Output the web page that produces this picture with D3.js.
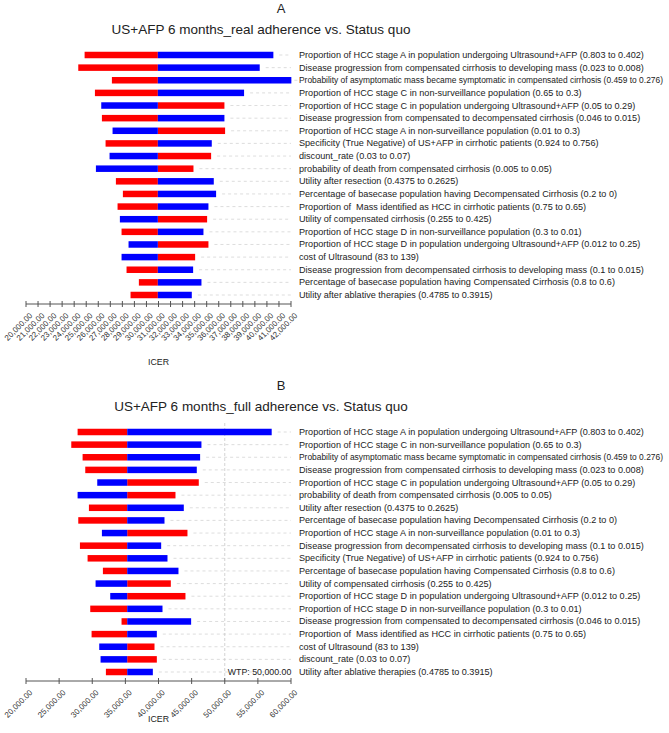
<!DOCTYPE html>
<html>
<head>
<meta charset="utf-8">
<script src="https://cdn.jsdelivr.net/npm/d3@7/dist/d3.min.js"></script>
<style>
  html, body { margin: 0; padding: 0; background: #fff; }
  svg { display: block; font-family: "Liberation Sans", Arial, sans-serif; }
  .lbl { white-space: pre; }
</style>
</head>
<body>
<svg id="chart" width="669" height="733"></svg>
<script>
// ---------- Data: panel A ----------
const titleA = "US+AFP 6 months_real adherence vs. Status quo";
const baseA = 30945;
const labelsA = [
  "Proportion of HCC stage A in population undergoing Ultrasound+AFP (0.803 to 0.402)",
  "Disease progression from compensated cirrhosis to developing mass (0.023 to 0.008)",
  "Probability of asymptomatic mass became symptomatic in compensated cirrhosis (0.459 to 0.276)",
  "Proportion of HCC stage C in non-surveillance population (0.65 to 0.3)",
  "Proportion of HCC stage C in population undergoing Ultrasound+AFP (0.05 to 0.29)",
  "Disease progression from compensated to decompensated cirrhosis (0.046 to 0.015)",
  "Proportion of HCC stage A in non-surveillance population (0.01 to 0.3)",
  "Specificity (True Negative) of US+AFP in cirrhotic patients (0.924 to 0.756)",
  "discount_rate (0.03 to 0.07)",
  "probability of death from compensated cirrhosis (0.005 to 0.05)",
  "Utility after resection (0.4375 to 0.2625)",
  "Percentage of basecase population having Decompensated Cirrhosis (0.2 to 0)",
  "Proportion of  Mass identified as HCC in cirrhotic patients (0.75 to 0.65)",
  "Utility of compensated cirrhosis (0.255 to 0.425)",
  "Proportion of HCC stage D in non-surveillance population (0.3 to 0.01)",
  "Proportion of HCC stage D in population undergoing Ultrasound+AFP (0.012 to 0.25)",
  "cost of Ultrasound (83 to 139)",
  "Disease progression from decompensated cirrhosis to developing mass (0.1 to 0.015)",
  "Percentage of basecase population having Compensated Cirrhosis (0.8 to 0.6)",
  "Utility after ablative therapies (0.4785 to 0.3915)"
];
// ICER at the red end and at the blue end of each parameter range
const redA  = [24865, 24339, 27131, 25722, 36473, 26302, 36529, 26606, 35368, 33903,
               27463, 28043, 27601, 35036, 27933, 35146, 34041, 28347, 29370, 28679];
const blueA = [40536, 39403, 42029, 38104, 26247, 36473, 27186, 35423, 26937, 25804,
               35589, 35782, 35146, 27794, 34732, 28513, 27933, 33875, 34566, 33764];
const ticksA = d3.range(20000, 42001, 1000);

// ---------- Data: panel B ----------
const titleB = "US+AFP 6 months_full adherence vs. Status quo";
const baseB = 35276;
const wtpB = 50000;
const labelsB = [
  "Proportion of HCC stage A in population undergoing Ultrasound+AFP (0.803 to 0.402)",
  "Proportion of HCC stage C in non-surveillance population (0.65 to 0.3)",
  "Probability of asymptomatic mass became symptomatic in compensated cirrhosis (0.459 to 0.276)",
  "Disease progression from compensated cirrhosis to developing mass (0.023 to 0.008)",
  "Proportion of HCC stage C in population undergoing Ultrasound+AFP (0.05 to 0.29)",
  "probability of death from compensated cirrhosis (0.005 to 0.05)",
  "Utility after resection (0.4375 to 0.2625)",
  "Percentage of basecase population having Decompensated Cirrhosis (0.2 to 0)",
  "Proportion of HCC stage A in non-surveillance population (0.01 to 0.3)",
  "Disease progression from decompensated cirrhosis to developing mass (0.1 to 0.015)",
  "Specificity (True Negative) of US+AFP in cirrhotic patients (0.924 to 0.756)",
  "Percentage of basecase population having Compensated Cirrhosis (0.8 to 0.6)",
  "Utility of compensated cirrhosis (0.255 to 0.425)",
  "Proportion of HCC stage D in population undergoing Ultrasound+AFP (0.012 to 0.25)",
  "Proportion of HCC stage D in non-surveillance population (0.3 to 0.01)",
  "Disease progression from compensated to decompensated cirrhosis (0.046 to 0.015)",
  "Proportion of  Mass identified as HCC in cirrhotic patients (0.75 to 0.65)",
  "cost of Ultrasound (83 to 139)",
  "discount_rate (0.03 to 0.07)",
  "Utility after ablative therapies (0.4785 to 0.3915)"
];
const redB  = [27789, 26834, 28543, 28945, 46080, 42563, 29497, 27889, 44372, 28141,
               29296, 31608, 41859, 44070, 29698, 34422, 29899, 39397, 39749, 32060];
const blueB = [57085, 46482, 46281, 45779, 30754, 27789, 43819, 40905, 31457, 40402,
               41357, 43015, 30503, 32714, 40603, 44925, 39749, 31055, 31256, 39146];
const ticksB = d3.range(20000, 60001, 5000);

// ---------- Drawing ----------
const svg = d3.select("#chart");
const fmt = d3.format(",.2f");

function tornado(cfg) {
  const g = svg.append("g").attr("transform", `translate(0,${cfg.dy})`);
  const x = d3.scaleLinear().domain(cfg.domain).range([26, 291]);
  const y = d3.scalePoint().domain(d3.range(cfg.labels.length)).range([55, 295]);
  const barH = 6.5;
  const axisY = 304;

  g.append("text").attr("x", 281).attr("y", 13).attr("text-anchor", "middle")
    .attr("font-size", 13).attr("fill", "#222").text(cfg.letter);
  g.append("text").attr("x", 261).attr("y", 34).attr("text-anchor", "middle")
    .attr("font-size", 13.5).attr("fill", "#222").text(cfg.title);

  const rows = cfg.labels.map((l, i) => ({ i, label: l, red: cfg.red[i], blue: cfg.blue[i] }));

  // dashed guide lines
  g.selectAll("line.guide").data(rows).join("line")
    .attr("x1", d => Math.max(x(d.red), x(d.blue)) + 6)
    .attr("x2", 291)
    .attr("y1", d => y(d.i)).attr("y2", d => y(d.i))
    .attr("stroke", "#d4d4d4").attr("stroke-width", 0.8).attr("stroke-dasharray", "3,3");

  if (cfg.wtp != null) {
    g.append("line").attr("x1", x(cfg.wtp)).attr("x2", x(cfg.wtp))
      .attr("y1", 46).attr("y2", axisY)
      .attr("stroke", "#c8c8c8").attr("stroke-width", 0.8).attr("stroke-dasharray", "3,2");
    g.append("text").attr("x", x(cfg.wtp) + 3).attr("y", y(rows.length - 1) + 3)
      .attr("font-size", 8.8).attr("fill", "#222").text("WTP: " + fmt(cfg.wtp));
  }

  // bars
  ["red", "blue"].forEach(key => {
    g.selectAll("rect." + key).data(rows).join("rect")
      .attr("class", key)
      .attr("x", d => Math.min(x(cfg.base), x(d[key])))
      .attr("width", d => Math.abs(x(d[key]) - x(cfg.base)))
      .attr("y", d => y(d.i) - barH / 2)
      .attr("height", barH)
      .attr("fill", key === "red" ? "#ff0000" : "#0000ff");
  });

  // labels
  const maxW = 663 - 299;
  const fs = 9.1;
  g.selectAll("text.lbl").data(rows).join("text")
    .attr("class", "lbl")
    .attr("x", 299).attr("y", d => y(d.i) + 3)
    .attr("font-size", fs).attr("fill", "#222")
    .text(d => d.label)
    .each(function () {
      const w = this.getComputedTextLength();
      if (w > maxW) d3.select(this).attr("font-size", fs * maxW / w);
    });

  // axis
  const ax = g.append("g").attr("transform", `translate(0,${axisY})`);
  ax.append("line").attr("x1", x.range()[0]).attr("x2", x.range()[1])
    .attr("stroke", "#555").attr("stroke-width", 1);
  ax.selectAll("line.tick").data(cfg.ticks).join("line")
    .attr("x1", d => x(d)).attr("x2", d => x(d)).attr("y1", -3).attr("y2", 3)
    .attr("stroke", "#555").attr("stroke-width", 1);
  ax.selectAll("text.tl").data(cfg.ticks).join("text")
    .attr("transform", d => `translate(${x(d) + 5},10) rotate(-45)`)
    .attr("text-anchor", "end").attr("dy", "0.35em")
    .attr("font-size", 8).attr("fill", "#333")
    .text(d => fmt(d));
  g.append("text").attr("x", (x.range()[0] + x.range()[1]) / 2).attr("y", cfg.icerY)
    .attr("text-anchor", "middle").attr("font-size", 8.8).attr("fill", "#222").text("ICER");
}

tornado({ dy: 0, letter: "A", title: titleA, labels: labelsA, red: redA, blue: blueA,
          base: baseA, domain: [20000, 42000], ticks: ticksA, icerY: 365 });
tornado({ dy: 377, letter: "B", title: titleB, labels: labelsB, red: redB, blue: blueB,
          base: baseB, wtp: wtpB, domain: [20000, 60000], ticks: ticksB, icerY: 345 });
</script>
</body>
</html>
